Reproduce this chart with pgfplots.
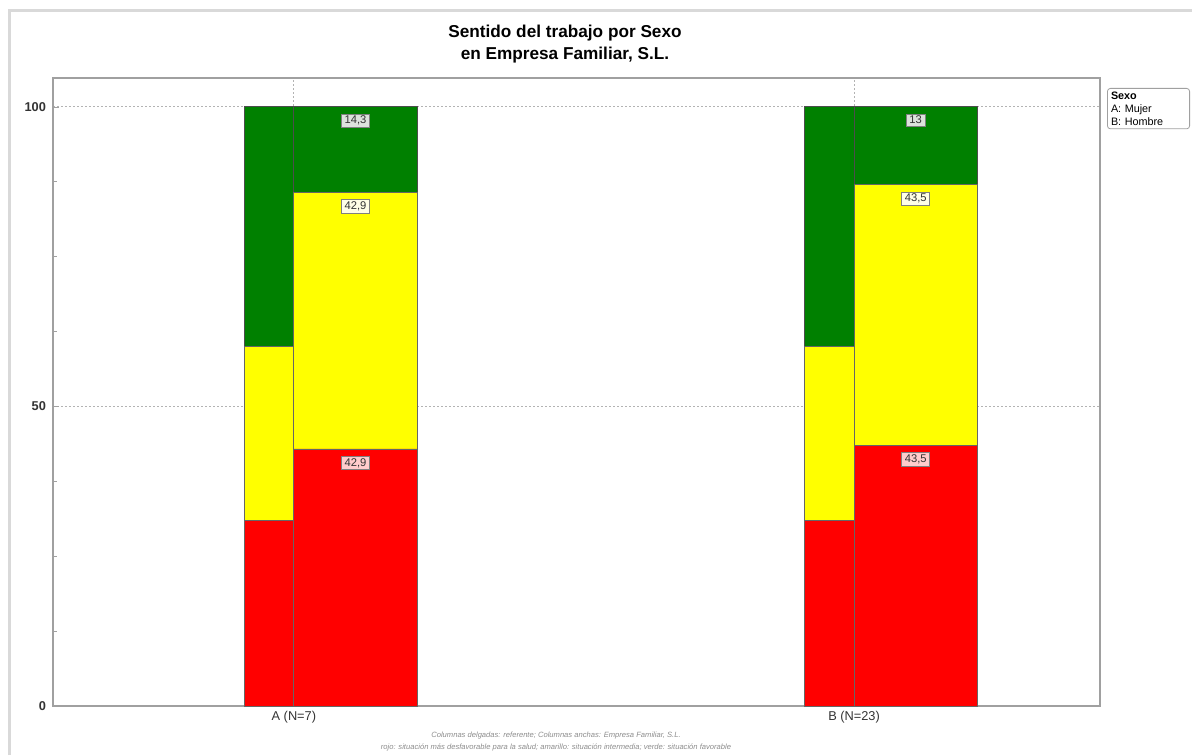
\documentclass[border=0pt]{standalone}
\usepackage{fontspec}
\setmainfont{Liberation Sans}
\usepackage{pgfplots}
\pgfplotsset{compat=1.18}
\definecolor{cgreen}{RGB}{0,128,0}
\definecolor{cyellow}{RGB}{255,255,0}
\definecolor{cred}{RGB}{255,0,0}
\definecolor{axgray}{RGB}{160,160,160}
\begin{document}
\begin{tikzpicture}
\begin{axis}[
  scale only axis, width=523.5pt, height=314pt,
  xmin=-0.430, xmax=1.439, ymin=0, ymax=104.8,
  axis line style={axgray, line width=0.8pt},
  xtick={0,1}, xticklabels={A (N=7), B (N=23)},
  ytick={0,50,100}, minor y tick num=3,
  ytick pos=left,
  tick style={axgray}, tick align=inside,
  major tick length=3pt, minor tick length=2pt,
  xtick style={draw=none},
  grid=major,
  major grid style={axgray!80, dash pattern=on 1pt off 1pt, line width=0.4pt},
  ticklabel style={font=\fontsize{6.4}{7}\selectfont, text=black!80},
  /pgf/number format/assume math mode=true,
  yticklabel style={font=\bfseries\fontsize{6.4}{7}\selectfont},
  xticklabel style={yshift=1pt},
  point meta=explicit symbolic,
]
% thin bars (referente), centred at -0.0445 and 0.9555
\addplot[ybar, bar width=0.089, bar shift=0, fill=cgreen, draw=black!70, line width=0.4pt] coordinates {(-0.0445,100) (0.9555,100)};
\addplot[ybar, bar width=0.089, bar shift=0, fill=cyellow, draw=black!60, line width=0.4pt] coordinates {(-0.0445,60) (0.9555,60)};
\addplot[ybar, bar width=0.089, bar shift=0, fill=cred, draw=black!60, line width=0.4pt] coordinates {(-0.0445,31) (0.9555,31)};
% wide bars (Empresa Familiar), centred at 0.11 and 1.11
\addplot[ybar, bar width=0.22, bar shift=0, fill=cgreen, draw=black!70, line width=0.4pt,
  nodes near coords,
  every node near coord/.append style={anchor=north, yshift=-3.5pt, fill=green!10!gray!25, draw=gray, inner xsep=1.6pt, inner ysep=1pt, font=\fontsize{5.6}{6}\selectfont, text=black!80}]
  coordinates {(0.11,100) [14,3] (1.11,100) [13]};
\addplot[ybar, bar width=0.22, bar shift=0, fill=cyellow, draw=black!60, line width=0.4pt,
  nodes near coords,
  every node near coord/.append style={anchor=north, yshift=-3.5pt, fill=yellow!10, draw=gray, inner xsep=1.6pt, inner ysep=1pt, font=\fontsize{5.6}{6}\selectfont, text=black!80}]
  coordinates {(0.11,85.7) [42,9] (1.11,87) [43,5]};
\addplot[ybar, bar width=0.22, bar shift=0, fill=cred, draw=black!60, line width=0.4pt,
  nodes near coords,
  every node near coord/.append style={anchor=north, yshift=-3.5pt, fill=red!20, draw=gray, inner xsep=1.6pt, inner ysep=1pt, font=\fontsize{5.6}{6}\selectfont, text=black!80}]
  coordinates {(0.11,42.9) [42,9] (1.11,43.5) [43,5]};
\end{axis}
% title
\node[align=center, font=\bfseries\fontsize{8.6}{11}\selectfont] at ([xshift=-5.75pt, yshift=17pt]current axis.north) {Sentido del trabajo por Sexo\\en Empresa Familiar, S.L.};
% legend box
\node[anchor=north west, draw=axgray, rounded corners=1.5pt, align=left, inner sep=1.8pt,
  text width=37.5pt, font=\fontsize{5.4}{6.4}\selectfont] at ([xshift=3.5pt, yshift=-5pt]current axis.north east)
  {\textbf{Sexo}\\A: Mujer\\B: Hombre};
% footer
\node[align=center, font=\itshape\fontsize{3.8}{6}\selectfont, text=black!45] at ([xshift=251.5pt, yshift=-18pt]current axis.south west)
  {Columnas delgadas: referente; Columnas anchas: Empresa Familiar, S.L.\\rojo: situación más desfavorable para la salud; amarillo: situación intermedia; verde: situación favorable};
% outer frame
\draw[black!15, line width=1.5pt] ([xshift=-21.5pt, yshift=-24.5pt]current axis.south west) -- ++(0,372pt) -- ++(591pt,0);
\pgfresetboundingbox
\path ([xshift=-26.5pt, yshift=-24.5pt]current axis.south west) rectangle ([xshift=46pt, yshift=39pt]current axis.north east);
\end{tikzpicture}
\end{document}
